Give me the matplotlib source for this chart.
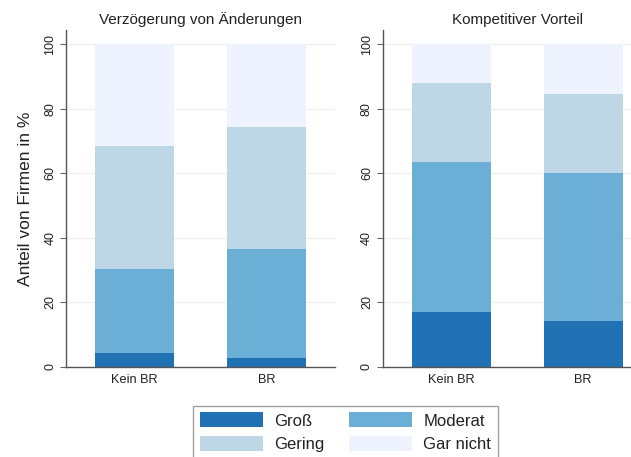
import matplotlib
matplotlib.use("Agg")
import matplotlib.pyplot as plt
from matplotlib.patches import Patch

plt.rcParams['font.family'] = ['Liberation Sans', 'DejaVu Sans']

groups = ["Kein BR", "BR"]
panel_titles = ["Verzögerung von Änderungen", "Kompetitiver Vorteil"]
levels = ["Groß", "Moderat", "Gering", "Gar nicht"]
colors = ["#2171b5", "#6baed6", "#bdd7e7", "#eff3ff"]

# cumulative shares -> per-level shares (percent)
verz_gross = [4.2, 2.7]
verz_moderat = [26.2, 33.9]
verz_gering = [38.1, 37.7]
verz_garnicht = [31.5, 25.7]

komp_gross = [17.0, 14.2]
komp_moderat = [46.6, 45.9]
komp_gering = [24.4, 24.4]
komp_garnicht = [12.0, 15.5]

panels = [
    [verz_gross, verz_moderat, verz_gering, verz_garnicht],
    [komp_gross, komp_moderat, komp_gering, komp_garnicht],
]

W, H = 631, 457
fig = plt.figure(figsize=(W / 100, H / 100), dpi=100)

ax_left_px = [66, 382.7]
ax_w_px = 269
ax_bottom_px = 366.7
ax_top_px = 30

axes = []
for i in range(2):
    ax = fig.add_axes([ax_left_px[i] / W, (H - ax_bottom_px) / H,
                       ax_w_px / W, (ax_bottom_px - ax_top_px) / H])
    axes.append(ax)
    x = list(range(len(groups)))
    bottom = [0.0] * len(groups)
    for vals, c, lab in zip(panels[i], colors, levels):
        ax.bar(x, vals, bottom=bottom, width=0.6, color=c, edgecolor='none',
               label=lab, zorder=2)
        bottom = [b + v for b, v in zip(bottom, vals)]
    ax.set_xlim(-0.519, 1.519)
    ax.set_ylim(0, 104.4)
    ax.set_yticks([0, 20, 40, 60, 80, 100])
    ax.set_xticks(x)
    ax.set_xticklabels(groups, fontsize=9.2, color='#222222')
    ax.tick_params(axis='y', labelrotation=90, labelsize=9, length=4,
                   color='#666666', labelcolor='#222222', pad=3)
    for lbl in ax.get_yticklabels():
        lbl.set_verticalalignment('center')
    ax.tick_params(axis='x', length=0, pad=5)
    ax.grid(axis='y', color='#f0f0f0', linewidth=1, zorder=0)
    ax.set_axisbelow(True)
    for s in ['top', 'right']:
        ax.spines[s].set_visible(False)
    for s in ['left', 'bottom']:
        ax.spines[s].set_color('#555555')
        ax.spines[s].set_linewidth(1)
    ax.set_title(panel_titles[i], fontsize=11, color='#222222', pad=4)

axes[0].set_ylabel("Anteil von Firmen in %", fontsize=12.5, color='#222222',
                   labelpad=8)

handles = [Patch(facecolor=c, edgecolor='none') for c in colors]
order = [0, 2, 1, 3]
leg = fig.legend([handles[k] for k in [0, 2, 1, 3]],
                 [levels[k] for k in [0, 2, 1, 3]],
                 ncol=2, loc='upper left',
                 bbox_to_anchor=(193 / W, 1 - 405.7 / H),
                 fontsize=12, frameon=True, fancybox=False,
                 handlelength=3.8, handleheight=1.0, handletextpad=0.65,
                 columnspacing=1.5, labelspacing=0.45, borderpad=0.4,
                 borderaxespad=0)
leg.get_frame().set_edgecolor('#888888')
leg.get_frame().set_linewidth(1)
for t in leg.get_texts():
    t.set_color('#222222')

fig.savefig("out.png", dpi=100)
